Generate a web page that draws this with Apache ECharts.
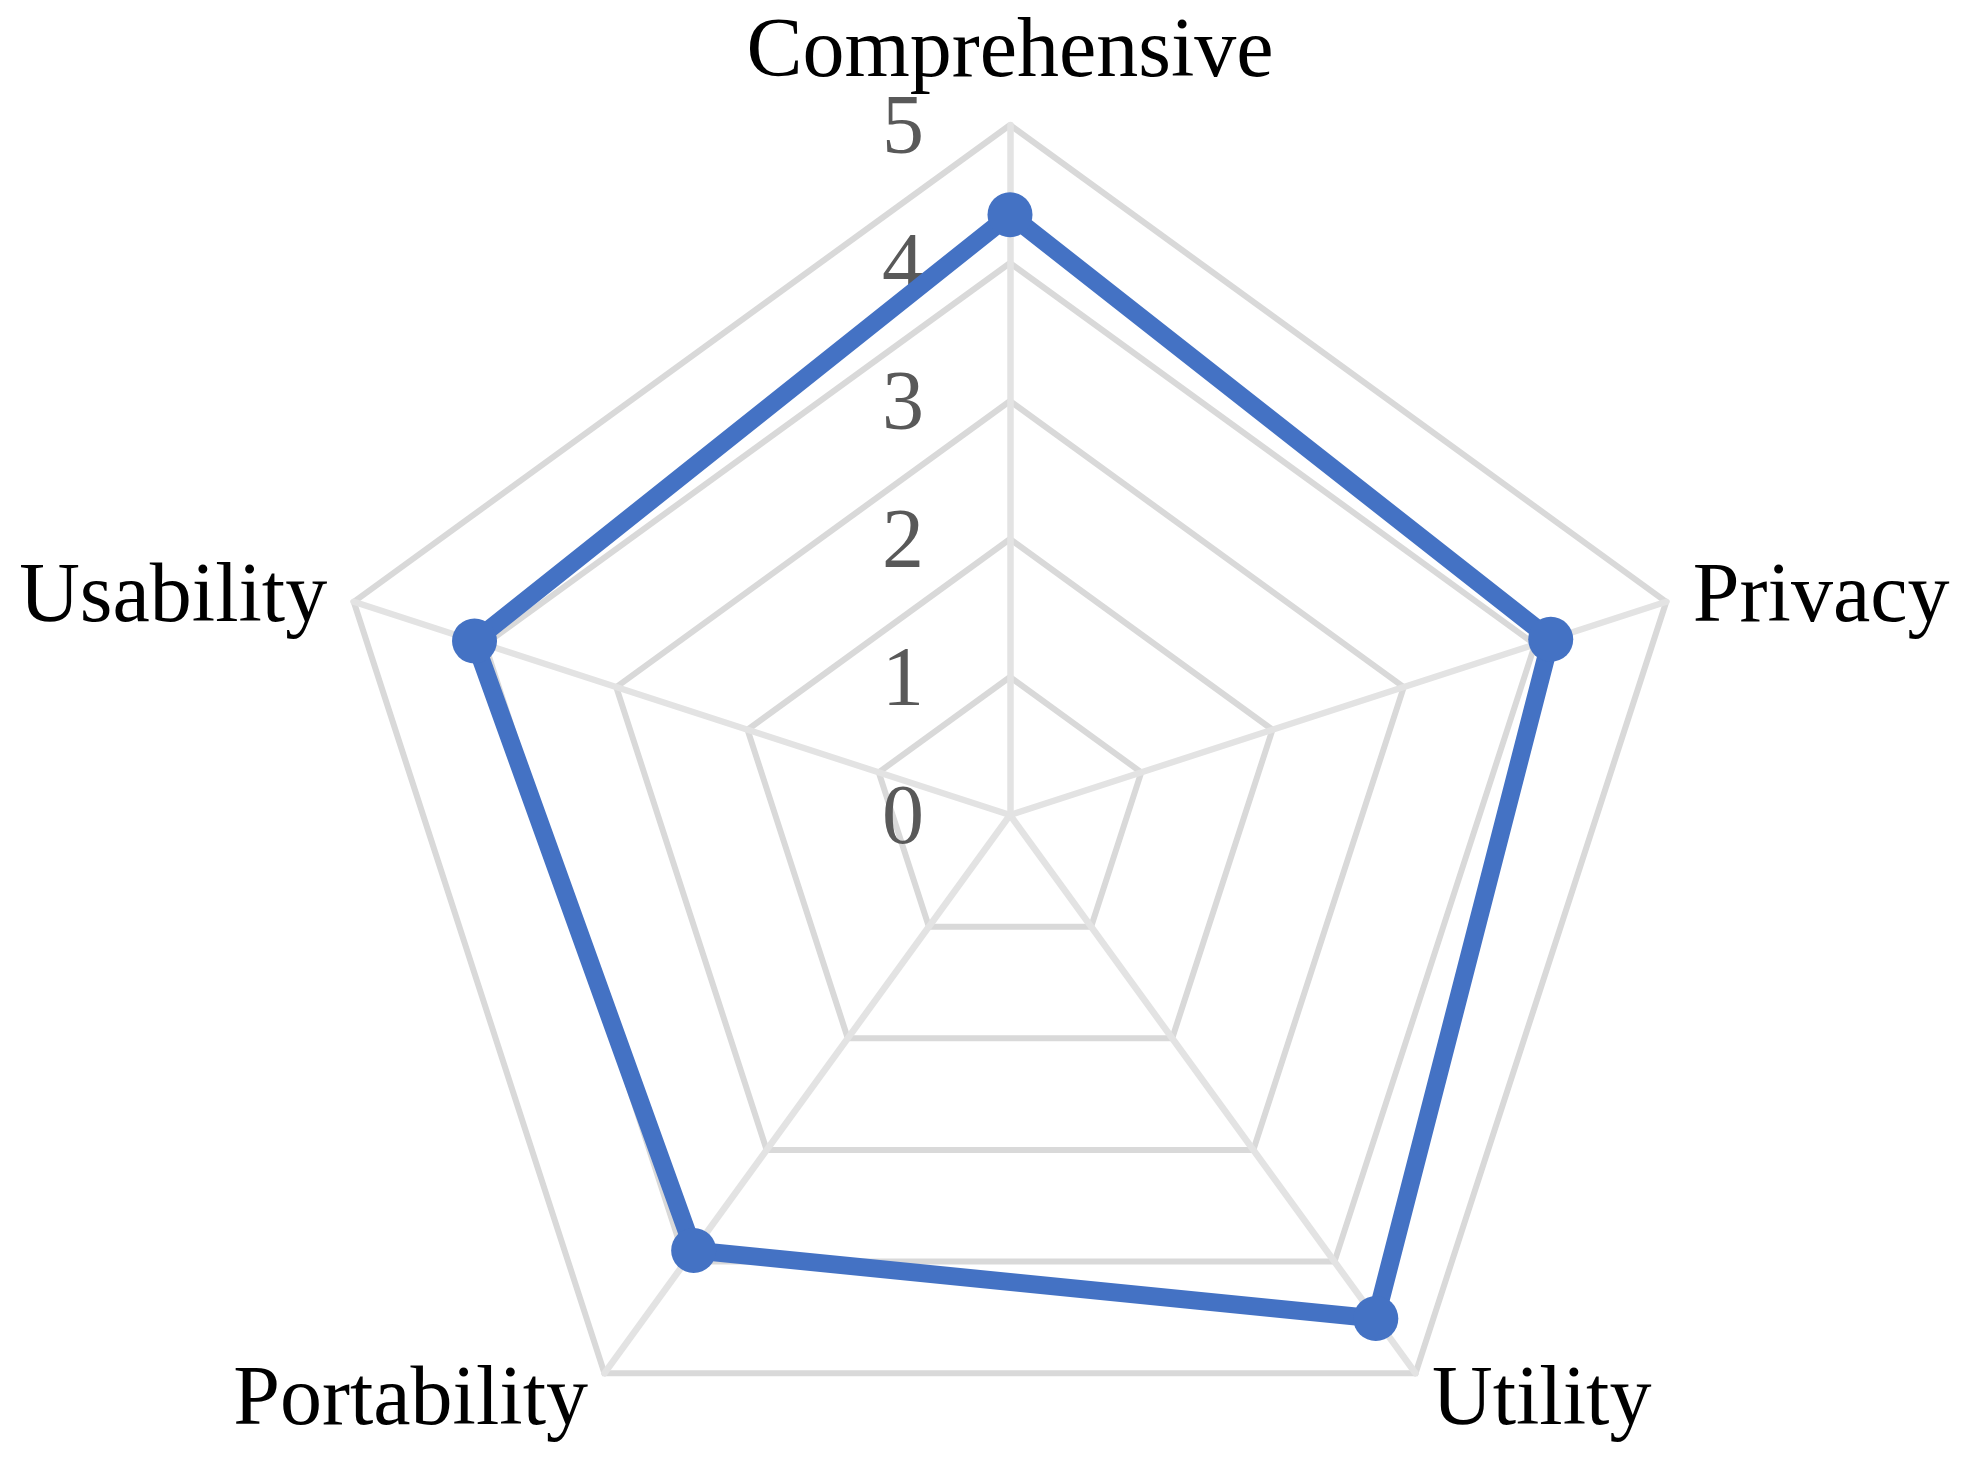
<!DOCTYPE html>
<html>
<head>
<meta charset="utf-8">
<script src="https://cdn.jsdelivr.net/npm/echarts@6/dist/echarts.min.js"></script>
<style>
html,body{margin:0;padding:0;background:#fff;}
#chart{width:1964px;height:1457px;}
</style>
</head>
<body>
<div id="chart"></div>
<script>
// Categories in clockwise order starting from the top
const categories = ['Comprehensive', 'Privacy', 'Utility', 'Portability', 'Usability'];
const scores = [4.35, 4.12, 4.51, 3.9, 4.08];
const axisMax = 5;

const FONT = "'Liberation Serif', 'Times New Roman', serif";

// ECharts radar lays indicators out counter-clockwise; reorder to keep clockwise look
const order = [0, 4, 3, 2, 1];
const indicators = order.map((idx, i) => {
  const ind = { name: categories[idx], min: 0, max: axisMax };
  if (i === 0) {
    ind.axisLabel = {
      show: true,
      margin: 86,
      color: '#595959',
      fontSize: 84,
      fontFamily: FONT,
      verticalAlign: 'top',
      lineHeight: 12,
      showMinLabel: true,
      showMaxLabel: true,
      hideOverlap: false
    };
  }
  return ind;
});
const orderedScores = order.map(idx => scores[idx]);

const chart = echarts.init(document.getElementById('chart'), null, { renderer: 'canvas' });
chart.setOption({
  backgroundColor: '#ffffff',
  animation: false,
  title: {
    text: categories[0],
    left: 1010,
    textAlign: 'center',
    top: 12,
    padding: 0,
    textStyle: { color: '#000000', fontSize: 84, fontWeight: 'normal', fontFamily: FONT }
  },
  radar: {
    center: [1010, 815],
    radius: 690,
    startAngle: 90,
    splitNumber: 5,
    shape: 'polygon',
    indicator: indicators,
    axisName: {
      color: '#000000',
      fontSize: 84,
      fontFamily: FONT,
      verticalAlign: 'top',
      lineHeight: 12,
      formatter: function (name) {
        // top axis name is drawn by the title component
        return name === categories[0] ? '' : name;
      }
    },
    nameGap: 28,
    axisLine: { show: true, lineStyle: { color: '#E3E3E3', width: 6.5 } },
    splitLine: { show: true, lineStyle: { color: '#D9D9D9', width: 6 } },
    splitArea: { show: false },
    axisTick: { show: false },
    axisLabel: { show: false }
  },
  series: [{
    type: 'radar',
    symbol: 'circle',
    symbolSize: 45,
    lineStyle: { color: '#4472C4', width: 18 },
    itemStyle: { color: '#4472C4' },
    data: [{ value: orderedScores, name: 'Score' }]
  }]
});
</script>
</body>
</html>
